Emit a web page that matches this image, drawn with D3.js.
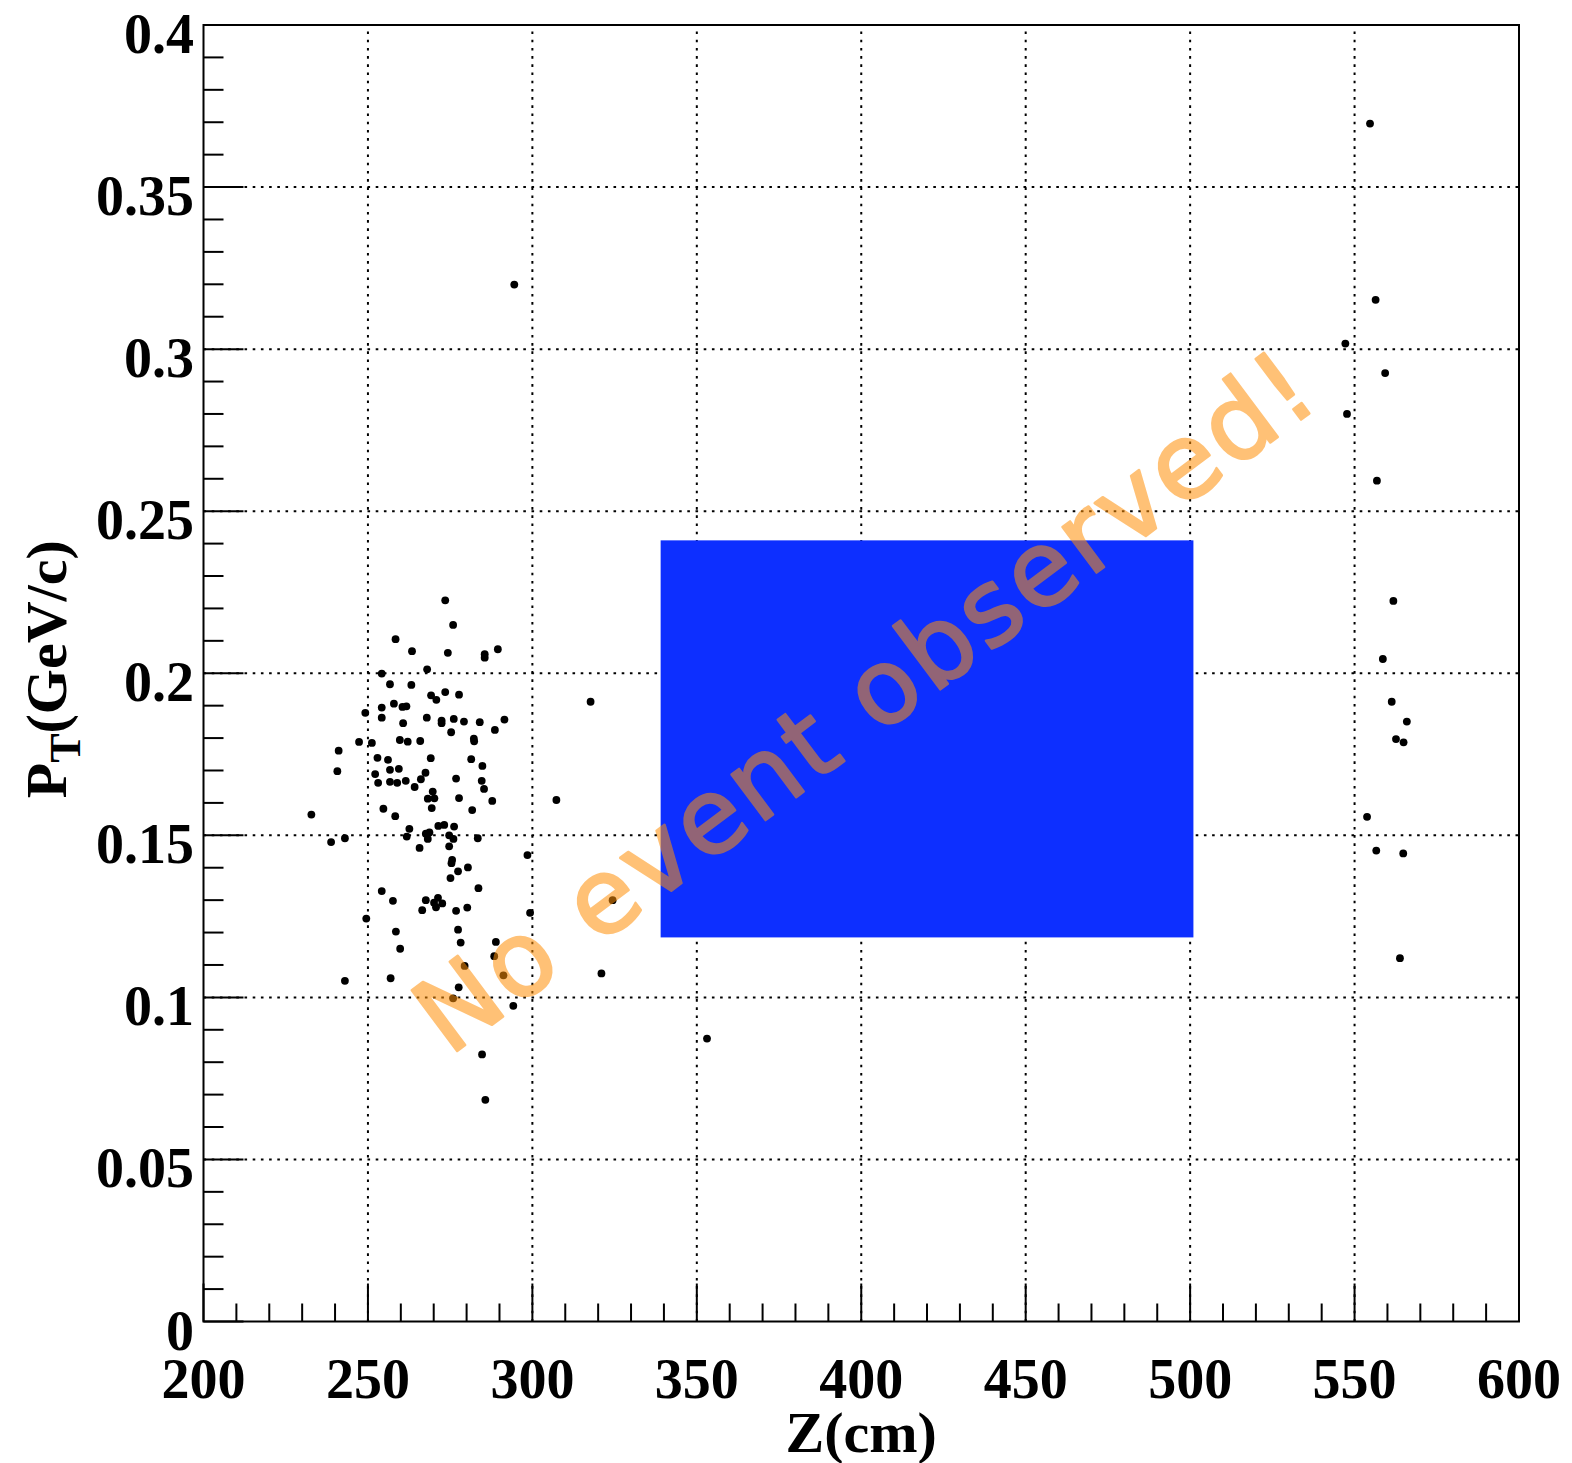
<!DOCTYPE html>
<html>
<head>
<meta charset="utf-8">
<script src="https://cdn.jsdelivr.net/npm/d3@7"></script>
<style>
html,body{margin:0;padding:0;background:#fff;}
svg{display:block;}
</style>
</head>
<body>
<svg id="chart" width="1572" height="1463"></svg>
<script>
// ---- data ----
const zValues = [
273.5,275.9,258.4,263.4,274.3,285.5,285.5,289.5,254.2,268.0,256.7,263.2,269.2,270.8,273.5,277.7,
254.2,257.9,260.5,261.7,249.2,254.2,260.7,267.9,272.4,272.4,276.1,279.2,284.0,291.5,288.6,275.3,
247.3,251.2,259.7,262.1,265.9,282.2,282.3,241.1,240.7,252.9,256.1,269.1,281.4,284.8,252.2,256.7,
259.4,267.5,253.1,256.7,258.9,261.5,266.1,264.2,276.8,284.6,285.3,269.7,268.2,270.2,277.7,287.8,
269.4,254.7,258.3,281.7,232.8,262.6,271.4,273.2,276.2,268.7,261.8,267.6,268.2,274.7,276.0,283.4,
238.8,243.0,265.7,274.7,298.5,275.6,275.4,277.4,280.4,275.1,283.6,254.2,257.6,267.6,271.3,270.1,
272.6,270.7,266.5,276.8,280.2,299.3,249.5,258.5,277.4,259.8,278.2,288.9,288.4,279.4,291.2,243.0,
256.9,277.6,275.9,294.2,284.7,285.7,
294.5,317.7,307.3,324.4,321.0,353.1,
554.7,556.4,547.2,559.3,547.7,556.8,561.8,558.6,561.3,565.9,562.6,564.9,553.8,556.6,564.8,563.8
];
const ptValues = [
0.2225,0.2149,0.2105,0.2068,0.2063,0.2059,0.2048,0.2074,0.1999,0.2012,0.1966,0.1964,0.1932,0.1918,0.1942,0.1934,
0.1894,0.1906,0.1896,0.1898,0.1878,0.1863,0.1846,0.1863,0.1854,0.1846,0.1859,0.1851,0.1849,0.1857,0.1825,0.1818,
0.1788,0.1785,0.1794,0.1789,0.1791,0.1798,0.1790,0.1761,0.1698,0.1739,0.1733,0.1738,0.1735,0.1714,0.1689,0.1702,
0.1705,0.1693,0.1662,0.1665,0.1662,0.1668,0.1673,0.1649,0.1675,0.1668,0.1643,0.1635,0.1613,0.1614,0.1615,0.1606,
0.1584,0.1582,0.1559,0.1578,0.1564,0.1520,0.1529,0.1532,0.1527,0.1509,0.1496,0.1505,0.1489,0.1500,0.1489,0.1491,
0.1479,0.1491,0.1461,0.1466,0.1439,0.1424,0.1414,0.1389,0.1401,0.1368,0.1337,0.1328,0.1298,0.1300,0.1307,0.1292,
0.1290,0.1278,0.1269,0.1267,0.1277,0.1261,0.1243,0.1203,0.1209,0.1150,0.1169,0.1171,0.1127,0.1097,0.1068,0.1051,
0.1059,0.1031,0.0997,0.0974,0.0824,0.0684,
0.3199,0.1912,0.1609,0.1300,0.1074,0.0873,
0.3696,0.3152,0.3017,0.2926,0.2800,0.2594,0.2223,0.2044,0.1912,0.1851,0.1797,0.1787,0.1557,0.1453,0.1444,0.1121
];
// excluded region box: [zMin, zMax, ptMin, ptMax]
const boxZ = [339, 501];
const boxPt = [0.1185, 0.241];
const xTickValues = [200,250,300,350,400,450,500,550,600];
const xTickLabels = ["200","250","300","350","400","450","500","550","600"];
const yTickValues = [0,0.05,0.1,0.15,0.2,0.25,0.3,0.35,0.4];
const yTickLabels = ["0","0.05","0.1","0.15","0.2","0.25","0.3","0.35","0.4"];
const xDomain = [200,600];
const yDomain = [0,0.4];
const annotation = "No event observed!";

// ---- layout ----
const L = 203.5, R = 1519, T = 25, B = 1321.5;
const svg = d3.select("#chart");
const x = d3.scaleLinear().domain(xDomain).range([L, R]);
const y = d3.scaleLinear().domain(yDomain).range([B, T]);
const font = "'Liberation Serif','Times New Roman',serif";

// grid
const grid = svg.append("g").attr("stroke","#000").attr("stroke-width",2).attr("stroke-dasharray","2.6,5.6");
grid.selectAll("line.vx").data(xTickValues.slice(1,-1)).enter().append("line")
  .attr("x1",d=>x(d)).attr("x2",d=>x(d)).attr("y1",B).attr("y2",T);
grid.selectAll("line.hy").data(yTickValues.slice(1,-1)).enter().append("line")
  .attr("y1",d=>y(d)).attr("y2",d=>y(d)).attr("x1",L).attr("x2",R);

// points
svg.append("g").selectAll("circle").data(zValues.map((z,i)=>[z,ptValues[i]])).enter()
  .append("circle").attr("cx",d=>x(d[0])).attr("cy",d=>y(d[1])).attr("r",3.9).attr("fill","#000");

// box
svg.append("rect").attr("x",x(boxZ[0])).attr("y",y(boxPt[1]))
  .attr("width",x(boxZ[1])-x(boxZ[0])).attr("height",y(boxPt[0])-y(boxPt[1]))
  .attr("fill","#0d2fff");

// annotation
const ag = svg.append("g").attr("opacity",0.55)
  .attr("transform","translate(449,1057) rotate(-36.8)");
ag.append("text").text(annotation)
  .attr("x",0).attr("y",0)
  .attr("font-family","'DejaVu Sans','Noto Sans',sans-serif")
  .attr("font-size",104)
  .attr("textLength",1090).attr("lengthAdjust","spacing")
  .attr("fill","#ff9008").attr("stroke","#ff9008").attr("stroke-width",2.5)
  .attr("stroke-linejoin","round").attr("stroke-linecap","round");

// frame
svg.append("rect").attr("x",L).attr("y",T).attr("width",R-L).attr("height",B-T)
  .attr("fill","none").attr("stroke","#000").attr("stroke-width",2);

// ticks
const tk = svg.append("g").attr("stroke","#000").attr("stroke-width",2);
const xMinor = d3.range(xDomain[0], xDomain[1]+0.001, 10);
tk.selectAll("line.xt").data(xMinor).enter().append("line")
  .attr("x1",d=>x(d)).attr("x2",d=>x(d)).attr("y1",B)
  .attr("y2",d=> (Math.round(d)%50===0) ? B-38 : B-18);
const yMinor = d3.range(0, 40.001, 1).map(v=>v/100);
tk.selectAll("line.yt").data(yMinor).enter().append("line")
  .attr("y1",d=>y(d)).attr("y2",d=>y(d)).attr("x1",L)
  .attr("x2",(d,i)=> (i%5===0) ? L+40 : L+20);

// tick labels
svg.append("g").selectAll("text").data(xTickValues).enter().append("text")
  .attr("x",d=>x(d)).attr("y",1398).attr("text-anchor","middle")
  .attr("font-family",font).attr("font-weight","bold").attr("font-size",56)
  .text((d,i)=>xTickLabels[i]);
svg.append("g").selectAll("text").data(yTickValues).enter().append("text")
  .attr("x",194).attr("y",d=>y(d)+28).attr("text-anchor","end")
  .attr("font-family",font).attr("font-weight","bold").attr("font-size",56)
  .text((d,i)=>yTickLabels[i]);

// axis titles
svg.append("text").attr("x",(L+R)/2).attr("y",1452).attr("text-anchor","middle")
  .attr("font-family",font).attr("font-weight","bold").attr("font-size",58)
  .text("Z(cm)");
const yt = svg.append("text").attr("transform",`translate(66,${(T+B)/2 - 4}) rotate(-90)`)
  .attr("text-anchor","middle")
  .attr("font-family",font).attr("font-weight","bold").attr("font-size",58);
yt.append("tspan").text("P");
yt.append("tspan").attr("font-size",44).attr("dy",14).text("T");
yt.append("tspan").attr("dy",-14).text("(GeV/c)");
</script>
</body>
</html>
